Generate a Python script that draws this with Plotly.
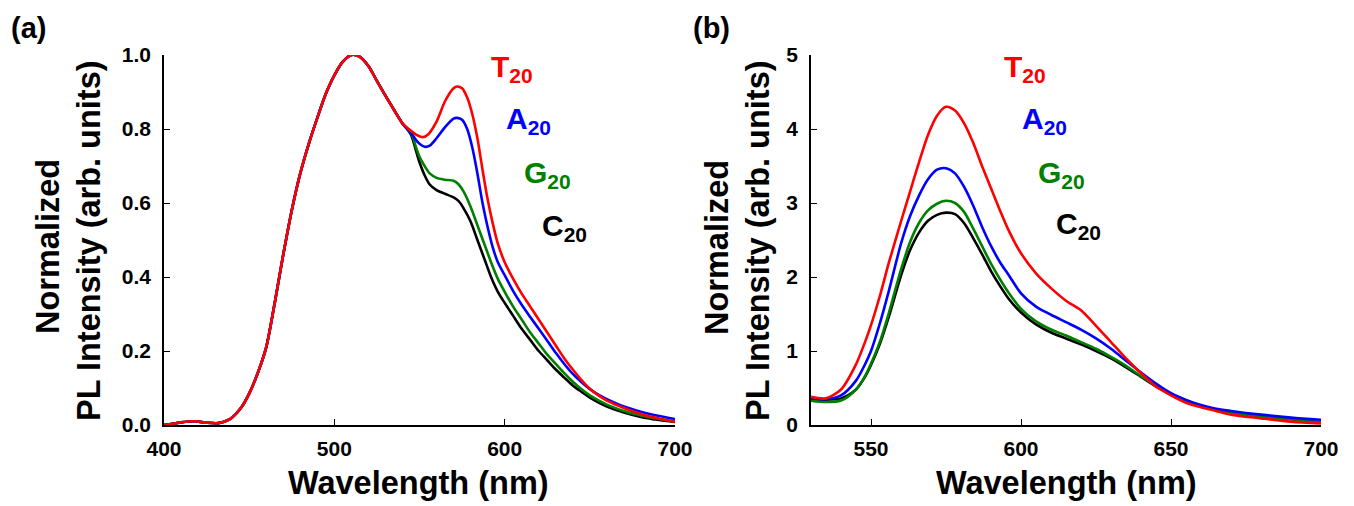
import plotly.graph_objects as go

W, H = 1354, 506

# ---------------- Panel (a) data: normalized PL ----------------
wl_common = [400, 405, 410, 418, 425, 432, 437, 440, 445, 450, 455, 460, 465, 470, 475, 480, 485, 490,
             495, 500, 505, 510, 515, 520, 525, 530, 535, 540]
int_common = [0.0, 0.003, 0.007, 0.01, 0.006, 0.005, 0.012, 0.02, 0.045, 0.085, 0.14, 0.21, 0.33, 0.46,
              0.58, 0.68, 0.76, 0.83, 0.895, 0.945, 0.982, 1.0, 0.995, 0.97, 0.93, 0.89, 0.852, 0.815]

wl_a_T = [545, 548, 552, 555, 560, 565, 570, 572, 575, 578, 581, 584, 587, 590, 593, 596, 600, 605, 610,
          615, 620, 625, 630, 635, 640, 645, 650, 655, 660, 670, 680, 690, 700]
int_a_T = [0.795, 0.785, 0.778, 0.785, 0.82, 0.875, 0.91, 0.915, 0.91, 0.885, 0.84, 0.775, 0.69, 0.61,
           0.545, 0.49, 0.44, 0.395, 0.355, 0.32, 0.285, 0.25, 0.215, 0.18, 0.15, 0.122, 0.098, 0.08,
           0.066, 0.046, 0.03, 0.018, 0.008]

wl_a_A = [545, 548, 550, 553, 556, 560, 565, 570, 572, 575, 578, 581, 584, 587, 590, 593, 596, 600, 605,
          610, 615, 620, 625, 630, 635, 640, 645, 650, 655, 660, 670, 680, 690, 700]
int_a_A = [0.79, 0.77, 0.76, 0.752, 0.755, 0.775, 0.805, 0.828, 0.83, 0.825, 0.8, 0.75, 0.68, 0.6, 0.535,
           0.48, 0.44, 0.405, 0.362, 0.325, 0.292, 0.26, 0.228, 0.195, 0.165, 0.138, 0.116, 0.097,
           0.082, 0.07, 0.05, 0.036, 0.025, 0.016]

wl_a_G = [545, 548, 550, 553, 556, 560, 565, 570, 573, 576, 580, 584, 588, 592, 596, 600, 605, 610, 615,
          620, 625, 630, 635, 640, 645, 650, 660, 670, 680, 690, 700]
int_a_G = [0.79, 0.75, 0.725, 0.7, 0.68, 0.668, 0.663, 0.66, 0.65, 0.63, 0.59, 0.54, 0.49, 0.44, 0.395,
           0.36, 0.32, 0.285, 0.25, 0.22, 0.19, 0.165, 0.14, 0.117, 0.097, 0.08, 0.055, 0.038, 0.026,
           0.017, 0.01]

wl_a_C = [545, 548, 550, 553, 556, 560, 565, 570, 573, 576, 580, 584, 588, 592, 596, 600, 605, 610, 615,
          620, 625, 630, 635, 640, 645, 650, 660, 670, 680, 690, 700]
int_a_C = [0.785, 0.74, 0.71, 0.675, 0.65, 0.635, 0.625, 0.615, 0.605, 0.585, 0.55, 0.5, 0.45, 0.4, 0.36,
           0.33, 0.295, 0.26, 0.23, 0.2, 0.175, 0.15, 0.128, 0.107, 0.09, 0.074, 0.05, 0.034, 0.022,
           0.014, 0.008]

# ---------------- Panel (b) data ----------------
wl_b = [530, 535, 540, 545, 548, 550, 553, 556, 560, 563, 566, 569, 572, 575, 578, 581, 584, 587, 590,
        593, 596, 600, 605, 610, 615, 620, 625, 630, 635, 640, 645, 650, 655, 660, 665, 670, 680, 690, 700]
int_b_T = [0.38, 0.36, 0.48, 0.82, 1.12, 1.35, 1.75, 2.2, 2.75, 3.15, 3.55, 3.92, 4.18, 4.3, 4.25, 4.08,
           3.82, 3.5, 3.2, 2.9, 2.62, 2.32, 2.05, 1.85, 1.68, 1.55, 1.34, 1.12, 0.9, 0.7, 0.52, 0.4, 0.3,
           0.24, 0.19, 0.14, 0.09, 0.045, 0.02]
int_b_A = [0.36, 0.35, 0.4, 0.6, 0.82, 1.0, 1.38, 1.82, 2.45, 2.82, 3.1, 3.32, 3.45, 3.47, 3.4, 3.22,
           2.97, 2.68, 2.42, 2.2, 2.02, 1.78, 1.6, 1.49, 1.39, 1.29, 1.17, 1.03, 0.87, 0.71, 0.56, 0.43,
           0.34, 0.27, 0.22, 0.19, 0.14, 0.1, 0.07]
int_b_G = [0.33, 0.31, 0.33, 0.48, 0.66, 0.83, 1.13, 1.52, 2.1, 2.47, 2.73, 2.9, 2.99, 3.03, 3.0, 2.88,
           2.66, 2.42, 2.18, 1.97, 1.78, 1.57, 1.4, 1.29, 1.21, 1.12, 1.03, 0.92, 0.8, 0.66, 0.53, 0.42,
           0.33, 0.26, 0.21, 0.17, 0.12, 0.08, 0.05]
int_b_C = [0.35, 0.34, 0.36, 0.48, 0.65, 0.81, 1.1, 1.47, 2.02, 2.36, 2.6, 2.76, 2.84, 2.87, 2.85, 2.73,
           2.53, 2.31, 2.08, 1.88, 1.7, 1.52, 1.36, 1.25, 1.17, 1.09, 1.0, 0.9, 0.78, 0.65, 0.52, 0.42,
           0.33, 0.26, 0.21, 0.17, 0.12, 0.08, 0.05]

names = ["C<sub>20</sub>", "G<sub>20</sub>", "A<sub>20</sub>", "T<sub>20</sub>"]
colors = ["#000000", "#008000", "#0000ff", "#ff0000"]

fig = go.Figure()

a_sets = [(wl_a_C, int_a_C), (wl_a_G, int_a_G), (wl_a_A, int_a_A), (wl_a_T, int_a_T)]
for (wx, iy), c in zip(a_sets, colors):
    fig.add_trace(go.Scatter(x=wl_common + wx, y=int_common + iy, mode="lines",
                             line=dict(color=c, width=2.6, shape="spline", smoothing=0.8),
                             xaxis="x", yaxis="y", showlegend=False))

b_sets = [int_b_C, int_b_G, int_b_A, int_b_T]
for iy, c in zip(b_sets, colors):
    fig.add_trace(go.Scatter(x=wl_b, y=iy, mode="lines",
                             line=dict(color=c, width=2.6, shape="spline", smoothing=0.8),
                             xaxis="x2", yaxis="y2", showlegend=False))

ydom = [(H - 425) / H, (H - 55) / H]
tickfont = dict(family="Liberation Sans, Arial", size=21, color="black", weight="bold")
axis_common = dict(showline=True, linecolor="black", linewidth=1.6, ticks="inside", ticklen=6,
                   tickwidth=1.4, tickcolor="black", showgrid=False, zeroline=False,
                   tickfont=tickfont, mirror=False, automargin=False)

fig.update_layout(
    width=W, height=H, margin=dict(l=0, r=0, t=0, b=0, autoexpand=False),
    plot_bgcolor="white", paper_bgcolor="white",
    xaxis=dict(domain=[164 / W, 675 / W], range=[400, 700], tickvals=[400, 500, 600, 700],
               anchor="y", ticklabelstandoff=4, **axis_common),
    yaxis=dict(domain=ydom, range=[0, 1], tickvals=[0, 0.2, 0.4, 0.6, 0.8, 1.0], tickformat=".1f",
               anchor="x", ticklabelstandoff=7, **axis_common),
    xaxis2=dict(domain=[811 / W, 1321 / W], range=[530, 700], tickvals=[550, 600, 650, 700],
                anchor="y2", ticklabelstandoff=4, **axis_common),
    yaxis2=dict(domain=ydom, range=[0, 5], tickvals=[0, 1, 2, 3, 4, 5],
                anchor="x2", ticklabelstandoff=7, **axis_common),
)


def px(x, y):
    return x / W, 1 - y / H


title_font = dict(family="Liberation Sans, Arial", size=32.5, color="black", weight="bold")
ann = []
# axis titles
for cx in (418, 1066):
    x, y = px(cx, 483)
    ann.append(dict(x=x, y=y, text="Wavelength (nm)", font=title_font))
for cx1, cx2 in ((48, 89), (717, 758)):
    x, y = px(cx1, 247)
    ann.append(dict(x=x, y=y, text="Normalized", textangle=-90, font=title_font))
    x, y = px(cx2, 241)
    ann.append(dict(x=x, y=y, text="PL Intensity (arb. units)", textangle=-90, font=title_font))
# panel labels
for t, cx in (("(a)", 28), ("(b)", 711)):
    x, y = px(cx, 28)
    ann.append(dict(x=x, y=y, text=t, font=dict(family="Liberation Sans, Arial", size=29,
                                                   color="black", weight="bold")))
# series labels
lab_pos_a = [(564, 227), (547, 174), (528, 121), (512, 68)]
lab_pos_b = [(1078, 225), (1061, 174), (1044, 121), (1025, 68)]
for pos in (lab_pos_a, lab_pos_b):
    for (cx, cy), n, c in zip(pos, names, colors):
        x, y = px(cx, cy)
        ann.append(dict(x=x, y=y, text=n, font=dict(family="Liberation Sans, Arial", size=30,
                                                      color=c, weight="bold")))
for a in ann:
    a.update(xref="paper", yref="paper", showarrow=False, xanchor="center", yanchor="middle")
fig.update_layout(annotations=ann)

fig.write_html("out.html")
